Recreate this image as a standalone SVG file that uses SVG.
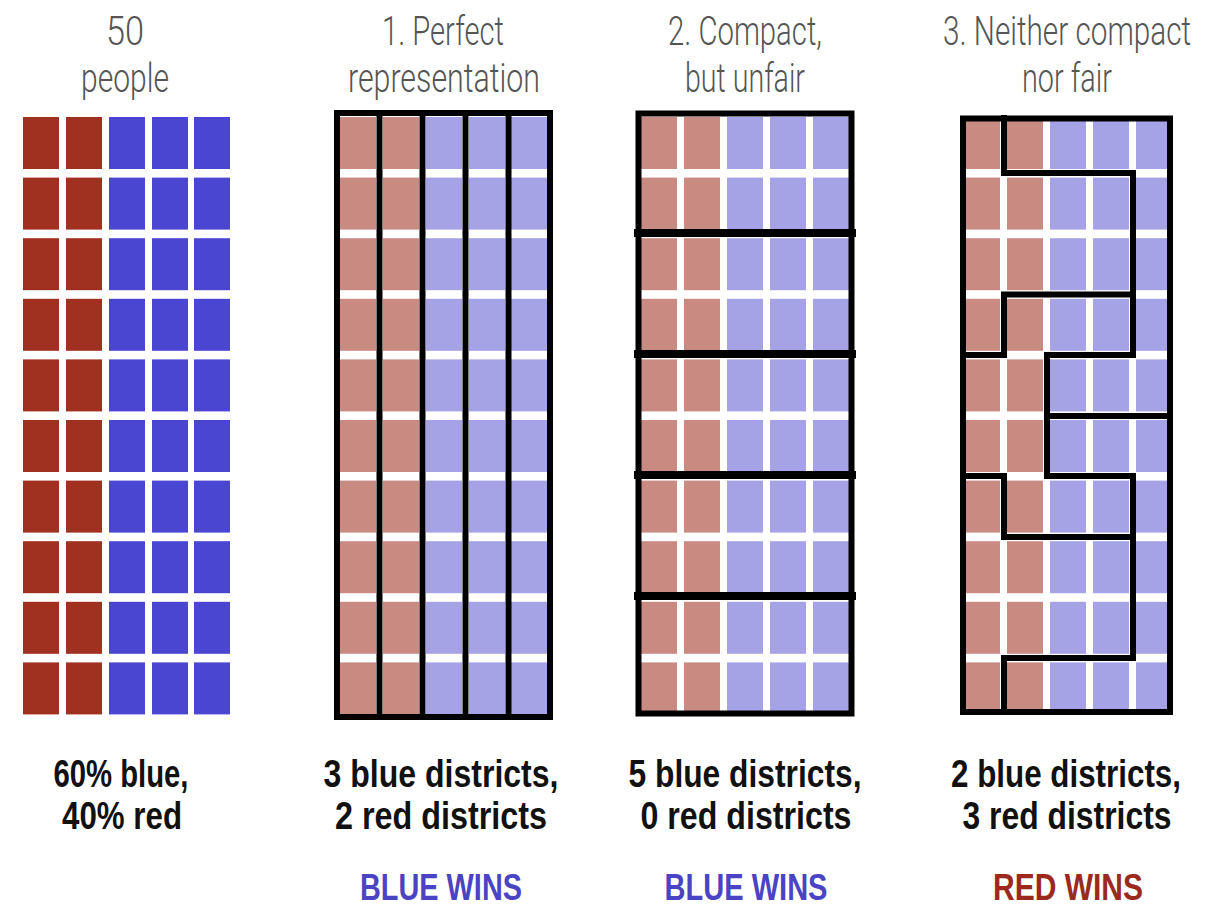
<svg xmlns="http://www.w3.org/2000/svg" xmlns:xlink="http://www.w3.org/1999/xlink" width="1213" height="907" viewBox="0 0 1213 907">
<style>
.hd{font-family:Roboto,"Liberation Sans",sans-serif;font-weight:300;font-size:30px;fill:#555;text-anchor:middle}
.sm{font-family:"Liberation Sans",Arial,sans-serif;font-weight:bold;font-size:30px;fill:#111;text-anchor:middle}
.win{font-family:"Liberation Sans",Arial,sans-serif;font-weight:bold;font-size:28px;text-anchor:middle}
.frame{fill:none;stroke:#000;stroke-width:6}
.ln{fill:none;stroke:#000;stroke-width:6;stroke-linejoin:miter;stroke-linecap:square}
</style>
<defs>
<g id="col">
<rect x="0" y="117" width="36" height="52"/>
<rect x="0" y="177.6" width="36" height="52"/>
<rect x="0" y="238.2" width="36" height="52"/>
<rect x="0" y="298.8" width="36" height="52"/>
<rect x="0" y="359.4" width="36" height="52"/>
<rect x="0" y="420" width="36" height="52"/>
<rect x="0" y="480.6" width="36" height="52"/>
<rect x="0" y="541.2" width="36" height="52"/>
<rect x="0" y="601.8" width="36" height="52"/>
<rect x="0" y="662.4" width="36" height="52"/>
</g>
</defs>
<rect width="1213" height="907" fill="#fff"/>

<g id="panel0">
<text class="hd" transform="translate(125,45) scale(1,1.33)" textLength="38" lengthAdjust="spacingAndGlyphs">50</text>
<text class="hd" transform="translate(125,92) scale(1,1.33)" textLength="88" lengthAdjust="spacingAndGlyphs">people</text>
<use href="#col" x="23" fill="#a0301f"/>
<use href="#col" x="66" fill="#a0301f"/>
<use href="#col" x="109" fill="#4a46d2"/>
<use href="#col" x="152" fill="#4a46d2"/>
<use href="#col" x="194" fill="#4a46d2"/>
<text class="sm" transform="translate(121,787) scale(1,1.3)" textLength="135" lengthAdjust="spacingAndGlyphs">60% blue,</text>
<text class="sm" transform="translate(122,829) scale(1,1.3)" textLength="120" lengthAdjust="spacingAndGlyphs">40% red</text>
</g>

<g id="panel1">
<text class="hd" transform="translate(443,45) scale(1,1.33)" textLength="122" lengthAdjust="spacingAndGlyphs">1. Perfect</text>
<text class="hd" transform="translate(444,92) scale(1,1.33)" textLength="192" lengthAdjust="spacingAndGlyphs">representation</text>
<use href="#col" x="340" fill="#c98b81"/>
<use href="#col" x="383" fill="#c98b81"/>
<use href="#col" x="426" fill="#a5a2e6"/>
<use href="#col" x="469" fill="#a5a2e6"/>
<use href="#col" x="511" fill="#a5a2e6"/>
<path class="ln" d="M379.5,113 V717 M422.5,113 V717 M465.5,113 V717 M508.5,113 V717"/>
<rect class="frame" x="337" y="113" width="213" height="604"/>
<text class="sm" transform="translate(441,787) scale(1,1.3)" textLength="235" lengthAdjust="spacingAndGlyphs">3 blue districts,</text>
<text class="sm" transform="translate(441,829) scale(1,1.3)" textLength="212" lengthAdjust="spacingAndGlyphs">2 red districts</text>
<text class="win" transform="translate(441,900) scale(1,1.29)" fill="#4a44c4" textLength="162" lengthAdjust="spacingAndGlyphs">BLUE WINS</text>
</g>

<g id="panel2">
<text class="hd" transform="translate(745,45) scale(1,1.33)" textLength="154" lengthAdjust="spacingAndGlyphs">2. Compact,</text>
<text class="hd" transform="translate(745,92) scale(1,1.33)" textLength="120" lengthAdjust="spacingAndGlyphs">but unfair</text>
<use href="#col" x="641" fill="#c98b81"/>
<use href="#col" x="684" fill="#c98b81"/>
<use href="#col" x="727" fill="#a5a2e6"/>
<use href="#col" x="770" fill="#a5a2e6"/>
<use href="#col" x="813" fill="#a5a2e6"/>
<path class="ln" style="stroke-width:8" d="M638,233 H852 M638,354 H852 M638,475 H852 M638,596 H852"/>
<rect class="frame" x="638.5" y="113.5" width="213" height="600"/>
<text class="sm" transform="translate(745,787) scale(1,1.3)" textLength="233" lengthAdjust="spacingAndGlyphs">5 blue districts,</text>
<text class="sm" transform="translate(746,829) scale(1,1.3)" textLength="211" lengthAdjust="spacingAndGlyphs">0 red districts</text>
<text class="win" transform="translate(746,900) scale(1,1.29)" fill="#4a44c4" textLength="163" lengthAdjust="spacingAndGlyphs">BLUE WINS</text>
</g>

<g id="panel3">
<text class="hd" transform="translate(1067,45) scale(1,1.33)" textLength="248" lengthAdjust="spacingAndGlyphs">3. Neither compact</text>
<text class="hd" transform="translate(1067,92) scale(1,1.33)" textLength="90" lengthAdjust="spacingAndGlyphs">nor fair</text>
<use href="#col" x="964" fill="#c98b81"/>
<use href="#col" x="1007" fill="#c98b81"/>
<use href="#col" x="1050" fill="#a5a2e6"/>
<use href="#col" x="1093" fill="#a5a2e6"/>
<use href="#col" x="1136" fill="#a5a2e6"/>
<path class="ln" d="M1004,118 V173 H1133 V355 H1047 V476 H1133 V658 H1004 V712 M963,355 H1004 V294.5 H1133 M1047,416 H1170 M963,476 H1004 V537 H1133"/>
<rect class="frame" x="963" y="118.5" width="207" height="593.5"/>
<text class="sm" transform="translate(1066,787) scale(1,1.3)" textLength="230" lengthAdjust="spacingAndGlyphs">2 blue districts,</text>
<text class="sm" transform="translate(1067,829) scale(1,1.3)" textLength="209" lengthAdjust="spacingAndGlyphs">3 red districts</text>
<text class="win" transform="translate(1068,900) scale(1,1.29)" fill="#9b2a1c" textLength="150" lengthAdjust="spacingAndGlyphs">RED WINS</text>
</g>
</svg>
